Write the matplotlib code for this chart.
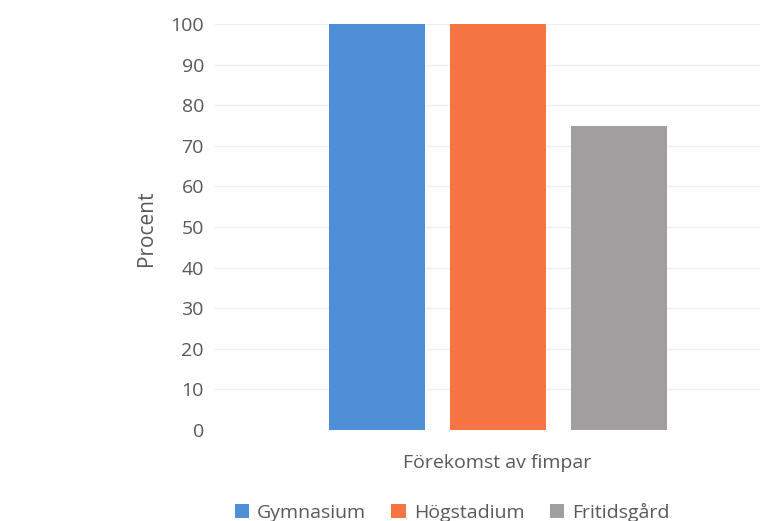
import numpy as np
import matplotlib.pyplot as plt

categories = ["Gymnasium", "Högstadium", "Fritidsgård"]
values = [100, 100, 75]
colors = ["#4F8FD6", "#F57542", "#A29D9F"]
yticks = np.arange(0, 101, 10)

plt.rcParams['font.family'] = ['Open Sans', 'DejaVu Sans']

fig = plt.figure(figsize=(7.6, 5.21), dpi=100)
# axes spans pixels x 215..781, y 24..430 (from top)
ax = fig.add_axes([215/760, (521-430)/521, 566/760, 406/521])

xpos = [-1, 0, 1]
bars = ax.bar(xpos, values, width=0.79, color=colors, label=categories, zorder=3)

ax.set_xlim(-2.34, 2.34)
ax.set_ylim(0, 100)
ax.set_yticks(yticks)
ax.yaxis.grid(True, color="#EFEFEF", linewidth=1, zorder=0)
ax.set_xticks([])
for s in ax.spines.values():
    s.set_visible(False)
ax.tick_params(axis='y', length=0, pad=8, labelsize=14, labelcolor="#595959")

fig.text(146/760, 1 - 228/521, "Procent", ha="center", va="center", rotation=90,
         fontsize=15, color="#595959")
fig.text(497/760, 1 - 463/521, "Förekomst av fimpar", ha="center", va="center",
         fontsize=14, color="#595959")

fig.legend(bars, categories, loc="center", bbox_to_anchor=(452/760, 1 - 512/521),
           ncol=3, frameon=False, fontsize=14, labelcolor="#595959",
           handlelength=0.75, handleheight=0.75, handletextpad=0.4, columnspacing=1.3)

fig.savefig("out.png", dpi=100)
